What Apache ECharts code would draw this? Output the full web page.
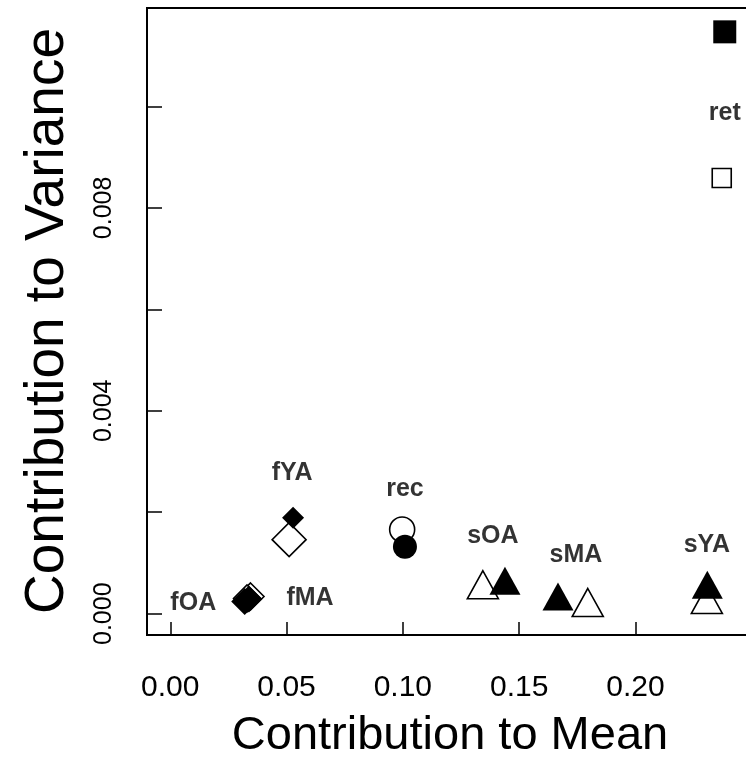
<!DOCTYPE html>
<html>
<head>
<meta charset="utf-8">
<script src="https://cdn.jsdelivr.net/npm/echarts@6/dist/echarts.min.js"></script>
<style>
  html, body { margin: 0; padding: 0; background: #fff; }
  #chart { width: 746px; height: 765px; }
</style>
</head>
<body>
<div id="chart"></div>
<script>
// Components: contribution to the mean vs contribution to the variance
const groups = ['ret', 'rec', 'fYA', 'fMA', 'fOA', 'sYA', 'sMA', 'sOA'];

// open markers
const meanOpen = [0.2371, 0.0997, 0.0511, 0.0345, 0.0330, 0.2307, 0.1795, 0.1344];
const varOpen  = [0.00859, 0.00166, 0.00146, 0.00034, 0.00030, 0.00028, 0.00022, 0.00057];

// filled markers
const meanFilled = [0.2384, 0.1009, 0.0528, 0.0338, 0.0320, 0.2309, 0.1667, 0.1439];
const varFilled  = [0.01147, 0.00132, 0.00189, 0.00029, 0.00024, 0.00057, 0.00034, 0.00065];

// where each group name is written
const labelMean = [0.2384, 0.1009, 0.0524, 0.0601, 0.0099, 0.2307, 0.1744, 0.1387];
const labelVar  = [0.00987, 0.00246, 0.00278, 0.000315, 0.000217, 0.00136, 0.00116, 0.00152];

const xTicks = [0, 0.05, 0.10, 0.15, 0.20, 0.25];
const xTickLabels = [0, 0.05, 0.10, 0.15, 0.20];
const yTicks = [0, 0.002, 0.004, 0.006, 0.008, 0.010];
const yTickLabels = [0, 0.004, 0.008];

// marker shape for each group
function shapeOf(name) {
  if (name === 'ret') return 'rect';
  if (name === 'rec') return 'circle';
  if (name[0] === 'f') return 'diamond';
  return 'triangle';
}
function sizeOf(name, filled) {
  const s = shapeOf(name);
  if (s === 'rect') return filled ? 23 : 19;
  if (s === 'circle') return filled ? 24 : 25;
  if (s === 'diamond') {
    if (name === 'fYA') return filled ? [22, 22] : [34, 34];
    return [27, 27];
  }
  return [31, 28];
}

function points(xs, ys, filled) {
  return groups.map((g, i) => ({
    name: g,
    value: [xs[i], ys[i]],
    symbol: shapeOf(g),
    symbolSize: sizeOf(g, filled)
  }));
}

const FONT = '"Liberation Sans", Arial, Helvetica, sans-serif';

const chart = echarts.init(document.getElementById('chart'), null, { renderer: 'canvas' });
chart.setOption({
  animation: false,
  backgroundColor: '#fff',
  grid: {
    left: 147, top: 8, width: 628, height: 627,
    outerBoundsMode: 'none', containLabel: false,
    show: true, borderColor: '#000', borderWidth: 2, backgroundColor: 'transparent'
  },
  xAxis: {
    type: 'value', min: -0.01, max: 0.26,
    axisLine: { show: false, onZero: false },
    splitLine: { show: false },
    axisTick: {
      show: true, inside: true, length: 13, customValues: xTicks,
      lineStyle: { color: '#000', width: 1.5 }
    },
    axisLabel: {
      customValues: xTickLabels, margin: 38,
      color: '#000', fontSize: 30, fontFamily: FONT,
      formatter: v => v.toFixed(2)
    }
  },
  yAxis: {
    type: 'value', min: -0.00042, max: 0.01194,
    axisLine: { show: false, onZero: false },
    splitLine: { show: false },
    axisTick: {
      show: true, inside: true, length: 15, customValues: yTicks,
      lineStyle: { color: '#000', width: 1.5 }
    },
    axisLabel: {
      customValues: yTickLabels, rotate: 90, margin: 30,
      color: '#000', fontSize: 25, fontFamily: FONT,
      formatter: v => v.toFixed(3)
    }
  },
  graphic: [
    {
      type: 'text',
      position: [450, 736],
      style: {
        text: 'Contribution to Mean', x: 0, y: 0,
        fill: '#000', font: '47px ' + FONT,
        textAlign: 'center', textVerticalAlign: 'middle'
      }
    },
    {
      type: 'text',
      position: [48, 321], rotation: Math.PI / 2,
      style: {
        text: 'Contribution to Variance', x: 0, y: 0,
        fill: '#000', font: '55px ' + FONT,
        textAlign: 'center', textVerticalAlign: 'middle'
      }
    }
  ],
  series: [
    {
      type: 'scatter', z: 2,
      data: points(meanOpen, varOpen, false),
      itemStyle: { color: '#fff', borderColor: '#000', borderWidth: 1.6, opacity: 1 }
    },
    {
      type: 'scatter', z: 3,
      data: points(meanFilled, varFilled, true),
      itemStyle: { color: '#000', borderColor: '#000', borderWidth: 0, opacity: 1 }
    },
    {
      type: 'scatter', z: 4, symbolSize: 0,
      data: groups.map((g, i) => ({ name: g, value: [labelMean[i], labelVar[i]] })),
      label: {
        show: true, position: 'inside', formatter: p => p.name,
        color: '#000', fontWeight: 'bold', fontSize: 25, fontFamily: FONT
      }
    }
  ]
});
</script>
</body>
</html>
